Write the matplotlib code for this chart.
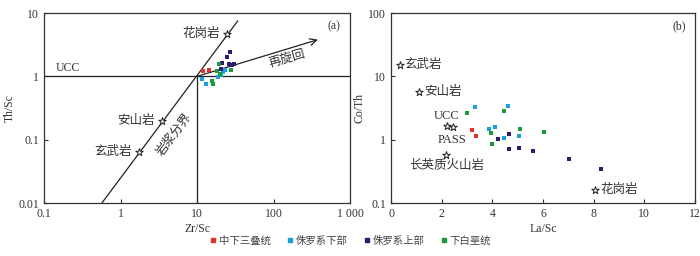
import matplotlib
matplotlib.use("Agg")
import matplotlib.pyplot as plt
import numpy as np

plt.rcParams['font.family'] = ['Liberation Serif', 'Noto Sans CJK SC']
plt.rcParams['font.size'] = 8.5
plt.rcParams['axes.unicode_minus'] = False

# Colours for the four units
groups = ["中下三叠统", "侏罗系下部", "侏罗系上部", "下白垩统"]
colors = ["#e8302a", "#1aa0e0", "#2e1a6e", "#1a9a3a"]

# (a) Zr/Sc vs Th/Sc
zr_sc = [
    [11.9, 14.2],
    [11.6, 13.1, 18.6, 22.0, 23.5, 20.6],
    [26.9, 24.6, 21.4, 26.1, 30.6, 20.6, 28.6],
    [19.5, 18.1, 20.0, 27.7, 15.8, 16.0],
]
th_sc = [
    [1.21, 1.26],
    [0.91, 0.77, 0.96, 1.17, 1.24, 1.06],
    [2.47, 2.05, 1.65, 1.55, 1.59, 1.31, 1.52],
    [1.59, 1.20, 1.09, 1.28, 0.86, 0.75],
]
ref_a_names = ["花岗岩", "安山岩", "玄武岩"]
ref_a_x = [25, 3.5, 1.75]
ref_a_y = [4.6, 0.2, 0.065]
magma_line_x = [0.57, 34]
magma_line_y = [0.01, 7.5]
recycle_x = [10, 380]
recycle_y = [1, 3.8]

# (b) La/Sc vs Co/Th
la_sc = [
    [3.19, 3.35],
    [3.30, 4.61, 3.88, 4.11, 4.44, 5.05],
    [4.24, 4.64, 4.64, 5.06, 5.62, 7.03, 8.28],
    [3.00, 4.45, 3.96, 3.97, 5.10, 6.03],
]
co_th = [
    [1.40, 1.15],
    [3.30, 3.41, 1.50, 1.58, 1.06, 1.15],
    [1.02, 1.23, 0.70, 0.74, 0.66, 0.49, 0.345],
    [2.60, 2.80, 1.29, 0.85, 1.45, 1.32],
]
ref_b_names = ["玄武岩", "安山岩", "UCC", "PASS", "长英质火山岩", "花岗岩"]
ref_b_x = [0.34, 1.12, 2.21, 2.43, 2.17, 8.05]
ref_b_y = [15, 5.6, 1.65, 1.6, 0.58, 0.16]

fig = plt.figure(figsize=(7, 2.56), dpi=100)
ax1 = fig.add_axes([0.063, 0.207, 0.437, 0.742])
ax2 = fig.add_axes([0.5586, 0.207, 0.4343, 0.742])

for ax in (ax1, ax2):
    for s in ax.spines.values():
        s.set_color("#333333")
        s.set_linewidth(0.9)
    ax.tick_params(direction="in", length=3, width=0.8, colors="#333333",
                   labelcolor="#333333", top=False, right=False, labelsize=8.5)

cjk = 9

# ---- panel (a)
ax1.set_xscale("log")
ax1.set_yscale("log")
ax1.set_xlim(0.1, 1000)
ax1.set_ylim(0.01, 10)
ax1.minorticks_off()
ax1.set_xticks([0.1, 1, 10, 100, 1000])
ax1.set_xticklabels(["0.1", "1", "10", "100", "1 000"])
ax1.set_yticks([0.01, 0.1, 1, 10])
ax1.set_yticklabels(["0.01", "0.1", "1", "10"])
ax1.set_xlabel("Zr/Sc", labelpad=2, color="#333333")
ax1.set_ylabel("Th/Sc", labelpad=2, color="#333333")

ax1.axhline(1, color="#222222", lw=0.9)
ax1.plot([10, 10], [0.01, 1], color="#222222", lw=0.9)
ax1.plot(magma_line_x, magma_line_y, color="#222222", lw=0.9)
ax1.annotate("", xy=(recycle_x[1], recycle_y[1]), xytext=(recycle_x[0], recycle_y[0]),
             arrowprops=dict(arrowstyle="->", color="#222222", lw=0.9,
                             mutation_scale=12, shrinkA=0, shrinkB=0))

for gx, gy, c in zip(zr_sc, th_sc, colors):
    ax1.scatter(gx, gy, marker="s", s=12, color=c, linewidths=0, zorder=3)
ax1.scatter(ref_a_x, ref_a_y, marker="*", s=32, facecolor="white",
            edgecolor="#222222", linewidths=0.7, zorder=4)
for nm, xx, yy in zip(ref_a_names, ref_a_x, ref_a_y):
    ax1.text(xx / 1.25, yy, nm, ha="right", va="center", color="#333333", fontsize=cjk)
ax1.text(0.14, 1.08, "UCC", ha="left", va="bottom", color="#333333")
ax1.text(0.97, 0.96, "(a)", transform=ax1.transAxes, ha="right", va="top", color="#333333")
ax1.text(150, 1.8, "再旋回", rotation=16, ha="center", va="center", color="#333333", fontsize=cjk)
ax1.text(5.1, 0.12, "岩浆分界", rotation=53, ha="center", va="center", color="#333333", fontsize=cjk)

# ---- panel (b)
ax2.set_yscale("log")
ax2.set_xlim(0, 12)
ax2.set_ylim(0.1, 100)
ax2.minorticks_off()
ax2.set_xticks(range(0, 13, 2))
ax2.set_yticks([0.1, 1, 10, 100])
ax2.set_yticklabels(["0.1", "1", "10", "100"])
ax2.set_xlabel("La/Sc", labelpad=2, color="#333333")
ax2.set_ylabel("Co/Th", labelpad=2, color="#333333")

for gx, gy, c in zip(la_sc, co_th, colors):
    ax2.scatter(gx, gy, marker="s", s=12, color=c, linewidths=0, zorder=3)
ax2.scatter(ref_b_x, ref_b_y, marker="*", s=32, facecolor="white",
            edgecolor="#222222", linewidths=0.7, zorder=4)
ax2.text(ref_b_x[0] + 0.2, ref_b_y[0], ref_b_names[0], ha="left", va="center", color="#333333", fontsize=cjk)
ax2.text(ref_b_x[1] + 0.2, ref_b_y[1], ref_b_names[1], ha="left", va="center", color="#333333", fontsize=cjk)
ax2.text(2.2, 2.35, ref_b_names[2], ha="center", va="center", color="#333333", fontsize=cjk)
ax2.text(2.4, 1.0, ref_b_names[3], ha="center", va="center", color="#333333", fontsize=cjk)
ax2.text(2.2, 0.38, ref_b_names[4], ha="center", va="center", color="#333333", fontsize=cjk)
ax2.text(ref_b_x[5] + 0.2, ref_b_y[5], ref_b_names[5], ha="left", va="center", color="#333333", fontsize=cjk)
ax2.text(0.97, 0.96, "(b)", transform=ax2.transAxes, ha="right", va="top", color="#333333")

# legend along the bottom
handles = [plt.Line2D([], [], marker="s", ls="", color=c, markersize=3.5) for c in colors]
fig.legend(handles, groups, loc="center", bbox_to_anchor=(0.5, 0.06), ncol=4,
           frameon=False, fontsize=7.5, handletextpad=0.1, columnspacing=1.5,
           handlelength=0.8, labelcolor="#444444")

fig.savefig("out.png", dpi=100)
